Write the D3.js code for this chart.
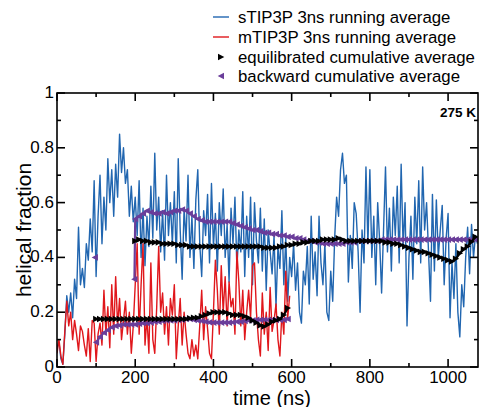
<!DOCTYPE html>
<html><head><meta charset="utf-8">
<script src="https://cdn.jsdelivr.net/npm/d3@7"></script>
<style>body{margin:0;background:#fff}svg{display:block;font-family:"Liberation Sans",Arial,sans-serif}</style>
</head><body><svg id="c" width="479" height="407"></svg>
<script>
// sTIP3P 3ns running average, every 5 ns from 0 ns
const sTIP3P = [
0.07,0.09,0.03,0.01,0.12,0.26,0.2,0.27,0.18,0.32,
0.25,0.51,0.3,0.36,0.29,0.45,0.39,0.54,0.42,0.68,
0.33,0.55,0.7,0.45,0.62,0.5,0.76,0.6,0.72,0.55,
0.74,0.62,0.85,0.71,0.8,0.67,0.72,0.55,0.66,0.53,
0.62,0.48,0.68,0.4,0.58,0.37,0.55,0.44,0.66,0.47,
0.78,0.5,0.62,0.42,0.57,0.39,0.7,0.48,0.6,0.45,
0.64,0.38,0.76,0.5,0.32,0.58,0.46,0.7,0.4,0.55,
0.36,0.61,0.72,0.45,0.33,0.57,0.48,0.63,0.38,0.67,
0.44,0.56,0.35,0.6,0.48,0.65,0.4,0.52,0.31,0.58,
0.45,0.62,0.36,0.5,0.42,0.64,0.33,0.55,0.4,0.62,
0.3,0.6,0.46,0.38,0.58,0.35,0.54,0.28,0.5,0.42,
0.34,0.48,0.22,0.44,0.36,0.57,0.3,0.47,0.24,0.4,
0.33,0.45,0.28,0.38,0.2,0.16,0.35,0.3,0.44,0.23,
0.55,0.32,0.42,0.26,0.55,0.38,0.3,0.45,0.2,0.17,
0.35,0.24,0.47,0.62,0.55,0.72,0.78,0.67,0.7,0.31,
0.48,0.36,0.6,0.56,0.42,0.2,0.5,0.38,0.73,0.45,
0.72,0.4,0.55,0.3,0.6,0.46,0.27,0.5,0.73,0.42,
0.58,0.35,0.62,0.48,0.66,0.38,0.74,0.44,0.6,0.15,
0.4,0.55,0.32,0.62,0.45,0.68,0.38,0.73,0.5,0.6,
0.42,0.24,0.63,0.35,0.61,0.4,0.5,0.59,0.3,0.47,
0.56,0.18,0.38,0.25,0.45,0.2,0.11,0.3,0.22,0.4,
0.51,0.34,0.52,0.4,0.48,0.45];
// mTIP3P 3ns running average, every 5 ns from 0 ns
const mTIP3P = [
0.05,0.1,0.04,0.01,0.13,0.24,0.15,0.2,0.1,0.17,
0.12,0.06,0.15,0.13,0.08,0.04,0.14,0.02,0.17,0.16,
0.02,0.12,0.16,0.08,0.28,0.12,0.22,0.07,0.3,0.12,
0.33,0.15,0.25,0.1,0.17,0.24,0.12,0.2,0.05,0.15,
0.3,0.45,0.12,0.3,0.45,0.08,0.18,0.05,0.38,0.1,
0.05,0.22,0.44,0.2,0.27,0.12,0.22,0.08,0.25,0.19,
0.3,0.03,0.15,0.25,0.08,0.2,0.12,0.05,0.03,0.1,
0.04,0.08,0.03,0.15,0.28,0.1,0.22,0.14,0.05,0.03,
0.2,0.39,0.28,0.12,0.37,0.2,0.33,0.15,0.31,0.22,
0.25,0.12,0.42,0.31,0.15,0.28,0.1,0.2,0.28,0.18,
0.37,0.38,0.2,0.1,0.04,0.27,0.12,0.2,0.06,0.29,
0.13,0.17,0.23,0.1,0.04,0.2,0.12,0.35,0.18,0.26];
// equilibrated cumulative average (sTIP3P), every 10 ns from 200 ns
const eqS = [
0.46,0.465,0.46,0.46,0.455,0.455,0.455,0.45,0.45,0.45,
0.45,0.445,0.445,0.445,0.44,0.44,0.44,0.44,0.44,0.44,
0.44,0.44,0.44,0.44,0.44,0.44,0.44,0.44,0.44,0.44,
0.44,0.44,0.44,0.435,0.435,0.435,0.435,0.44,0.44,0.445,
0.445,0.45,0.45,0.455,0.455,0.46,0.46,0.46,0.465,0.465,
0.465,0.465,0.47,0.465,0.46,0.46,0.46,0.46,0.46,0.46,
0.46,0.46,0.46,0.46,0.455,0.455,0.45,0.45,0.445,0.44,
0.435,0.43,0.425,0.42,0.42,0.415,0.41,0.405,0.4,0.395,
0.39,0.385,0.395,0.415,0.43,0.44,0.457,0.475];
// backward cumulative average (sTIP3P), every 10 ns from 200 ns
const bwS = [
0.54,0.55,0.56,0.57,0.565,0.56,0.56,0.565,0.56,0.565,
0.57,0.57,0.575,0.57,0.56,0.55,0.54,0.535,0.53,0.53,
0.53,0.53,0.53,0.53,0.53,0.525,0.52,0.515,0.51,0.505,
0.5,0.5,0.495,0.49,0.49,0.485,0.485,0.48,0.48,0.475,
0.475,0.47,0.47,0.465,0.46,0.46,0.455,0.455,0.45,0.45,
0.45,0.45,0.45,0.45,0.455,0.455,0.455,0.46,0.46,0.46,
0.46,0.46,0.46,0.465,0.465,0.465,0.465,0.465,0.465,0.465,
0.465,0.465,0.465,0.465,0.465,0.465,0.465,0.465,0.465,0.465,
0.465,0.465,0.465,0.465,0.465,0.465,0.465,0.465];
// early isolated backward points (sTIP3P): [ns, value]
const bwSEarly = [[97,0.40],[198,0.32]];
// equilibrated cumulative average (mTIP3P), every 10 ns from 100 ns
const eqM = [
0.175,0.175,0.175,0.175,0.175,0.175,0.175,0.175,0.175,0.175,
0.175,0.175,0.175,0.175,0.175,0.175,0.175,0.175,0.175,0.175,
0.175,0.175,0.175,0.175,0.178,0.18,0.18,0.185,0.19,0.195,
0.2,0.2,0.2,0.2,0.195,0.19,0.19,0.19,0.185,0.18,
0.17,0.162,0.152,0.148,0.155,0.165,0.17,0.175,0.19,0.215];
// backward cumulative average (mTIP3P), every 10 ns from 100 ns
const bwM = [
0.09,0.11,0.125,0.135,0.145,0.15,0.152,0.155,0.155,0.155,
0.155,0.158,0.16,0.16,0.162,0.165,0.165,0.168,0.17,0.17,
0.17,0.172,0.172,0.175,0.175,0.172,0.17,0.168,0.165,0.163,
0.162,0.162,0.162,0.162,0.162,0.163,0.165,0.165,0.168,0.17,
0.17,0.172,0.172,0.172,0.172,0.172,0.172,0.172,0.172,0.175];
const xTicks = [0,200,400,600,800,1000];
const yTicks = [0,0.2,0.4,0.6,0.8,1];
const legendLabels = ["sTIP3P 3ns running average","mTIP3P 3ns running average","equilibrated cumulative average","backward cumulative average"];

const BLUE="#2166b0", RED="#e0171c", PURPLE="#6a3d9a", BLACK="#000";
const svg = d3.select("#c");
const L=57, R=478, T=93, B=367;
const x = d3.scaleLinear().domain([0,1076.5]).range([L,R]);
const y = d3.scaleLinear().domain([0,1]).range([B,T]);

svg.append("clipPath").attr("id","clip").append("rect").attr("x",L).attr("y",T).attr("width",R-L).attr("height",B-T);
const g = svg.append("g").attr("clip-path","url(#clip)");

const line = d3.line().x(d=>x(d[0])).y(d=>y(d[1]));
const seq = (arr,start,step)=>arr.map((v,i)=>[start+i*step,v]);

g.append("path").datum(seq(sTIP3P,0,5)).attr("d",line).attr("fill","none").attr("stroke",BLUE).attr("stroke-width",1.4).attr("stroke-linejoin","round");
g.append("path").datum(seq(mTIP3P,0,5)).attr("d",line).attr("fill","none").attr("stroke",RED).attr("stroke-width",1.4).attr("stroke-linejoin","round");

const triR = "M-3,-3.3L3.3,0L-3,3.3Z";
const triL = "M3,-3.3L-3.3,0L3,3.3Z";
function markers(data,color,path){
  g.append("path").datum(data).attr("d",line).attr("fill","none").attr("stroke",color).attr("stroke-width",2.2);
  g.selectAll(null).data(data).enter().append("path").attr("d",path)
    .attr("transform",d=>`translate(${x(d[0])},${y(d[1])})`).attr("fill",color);
}
const bwSData = [bwSEarly[1]].concat(seq(bwS,200,10));
markers(bwSData,PURPLE,triL);
g.append("path").attr("d",triL).attr("transform",`translate(${x(bwSEarly[0][0])},${y(bwSEarly[0][1])})`).attr("fill",PURPLE);
markers(seq(bwM,100,10),PURPLE,triL);
markers(seq(eqS,200,10),BLACK,triR);
markers(seq(eqM,100,10),BLACK,triR);

// frame
const ax = svg.append("g").attr("stroke","#000").attr("stroke-width",1.6).attr("fill","none");
ax.append("rect").attr("x",L).attr("y",T).attr("width",R-L).attr("height",B-T);
const xMinor = d3.range(0,1076,100), yMinor = d3.range(0,1.001,0.1);
xMinor.forEach(v=>{
  const len = (v%200===0)?8:4;
  ax.append("line").attr("x1",x(v)).attr("x2",x(v)).attr("y1",B).attr("y2",B-len);
  ax.append("line").attr("x1",x(v)).attr("x2",x(v)).attr("y1",T).attr("y2",T+len);
});
yMinor.forEach((v,i)=>{
  const len = (i%2===0)?8:4;
  ax.append("line").attr("x1",L).attr("x2",L+len).attr("y1",y(v)).attr("y2",y(v));
  ax.append("line").attr("x1",R).attr("x2",R-len).attr("y1",y(v)).attr("y2",y(v));
});
const tf = d3.format("");
xTicks.forEach(v=>svg.append("text").attr("x",x(v)).attr("y",383).attr("text-anchor","middle").attr("font-size",17).text(v));
yTicks.forEach(v=>svg.append("text").attr("x",L-3).attr("y",y(v)+5).attr("text-anchor","end").attr("font-size",17).text(tf(v)));

svg.append("text").attr("x",272).attr("y",404.5).attr("text-anchor","middle").attr("font-size",20).text("time (ns)");
svg.append("text").attr("transform",`translate(31,${(T+B)/2}) rotate(-90)`).attr("text-anchor","middle").attr("font-size",21).text("helical fraction");
svg.append("text").attr("x",476).attr("y",117).attr("text-anchor","end").attr("font-size",13.5).attr("font-weight","bold").text("275 K");

// legend
const ly = [17,37,57,76];
const lg = svg.append("g");
lg.append("line").attr("x1",213).attr("x2",229).attr("y1",ly[0]).attr("y2",ly[0]).attr("stroke",BLUE).attr("stroke-width",1.4);
lg.append("line").attr("x1",213).attr("x2",229).attr("y1",ly[1]).attr("y2",ly[1]).attr("stroke",RED).attr("stroke-width",1.4);
lg.append("path").attr("d",triR).attr("transform",`translate(221,${ly[2]})`).attr("fill",BLACK);
lg.append("path").attr("d",triL).attr("transform",`translate(221,${ly[3]})`).attr("fill",PURPLE);
legendLabels.forEach((t,i)=>lg.append("text").attr("x",238).attr("y",ly[i]+5.5).attr("font-size",16.8).text(t));
</script></body></html>
